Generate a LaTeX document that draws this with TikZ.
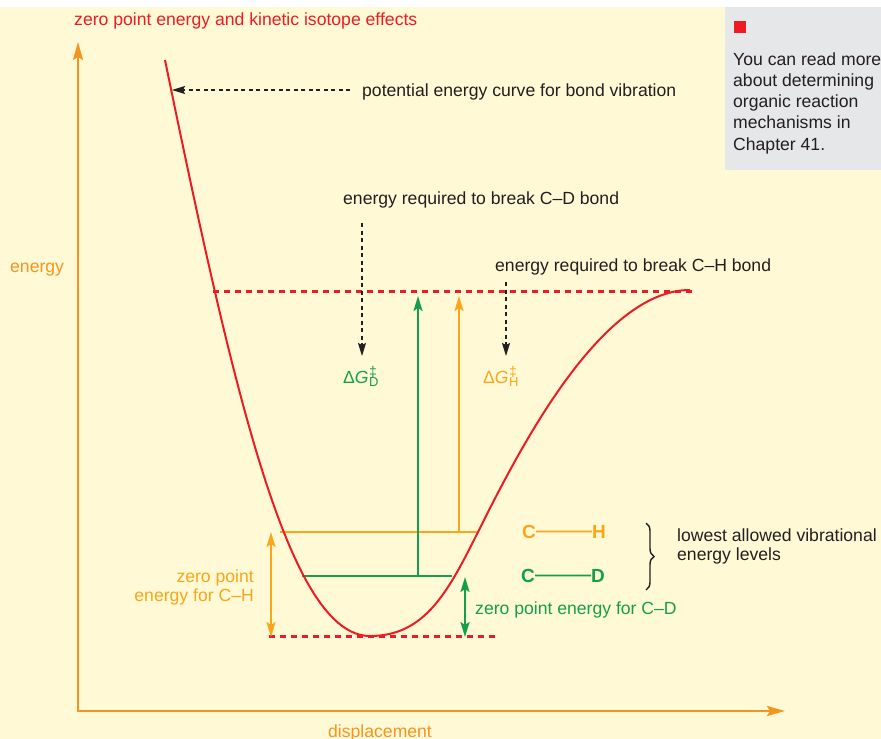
\documentclass[tikz,border=0pt]{standalone}
\usepackage{fontspec}
\setmainfont{Liberation Sans}
\usetikzlibrary{arrows.meta,decorations.pathreplacing}
\definecolor{bg}{HTML}{FFF9D5}
\definecolor{boxgray}{HTML}{E6E7E8}
\definecolor{cred}{HTML}{ED1C24}
\definecolor{axorange}{HTML}{F7941D}
\definecolor{chorange}{HTML}{FAA61A}
\definecolor{cdgreen}{HTML}{14A04A}
\definecolor{ink}{HTML}{231F20}
\newcommand{\mydg}[1]{Δ\textit{G}\hspace{0.5pt}\rlap{\raisebox{7pt}{\fontsize{14}{14}\selectfont ‡}}\raisebox{-3pt}{\fontsize{13}{13}\selectfont #1}}
\begin{document}
\begin{tikzpicture}[x=1pt,y=-1pt,
  lbl/.style={text=ink, inner sep=0pt, font=\fontsize{17.6}{21.5}\selectfont},
  dasharrow/.style={draw=ink, line width=1.2pt, dash pattern=on 4pt off 3.5pt, -{Stealth[length=13pt,width=8pt,inset=2pt]}},
  axis/.style={draw=axorange, line width=2pt, -{Stealth[length=18pt,width=10pt,inset=3pt]}},
  reddash/.style={draw=cred, line width=3pt, dash pattern=on 6pt off 5pt},
  uparrow/.style={line width=2pt, -{Stealth[length=15pt,width=9pt,inset=3pt]}},
  dblarrow/.style={line width=2pt, {Stealth[length=15pt,width=9pt,inset=3pt]}-{Stealth[length=15pt,width=9pt,inset=3pt]}},
  level/.style={line width=2.2pt},
  bondlbl/.style={inner sep=0pt, font=\fontsize{19}{21.5}\selectfont\bfseries}
]
\useasboundingbox (0,0) rectangle (881,739);
\fill[white] (0,0) rectangle (881,739);
\fill[bg] (0,7) rectangle (881,739);
\fill[boxgray] (725,7) rectangle (881,170);
\fill[cred] (734,21) rectangle (746,33);
% note box text
\node[lbl, anchor=base west] (n1) at (733,65) {You can read more};
\node[lbl, anchor=base west] (n2) at (733,86.3) {about determining};
\node[lbl, anchor=base west] (n3) at (733,107.6) {organic reaction};
\node[lbl, anchor=base west] (n4) at (733,128.9) {mechanisms in};
\node[lbl, anchor=base west] (n5) at (733,150.2) {Chapter 41.};
% title
\node[lbl, text=cred, anchor=base west] (title) at (74,25) {zero point energy and kinetic isotope effects};
% axes
\coordinate (orig) at (78,711);
\coordinate (ytip) at (78,42);
\coordinate (xtip) at (785,711);
\draw[axis] (78,712) -- (ytip);
\draw[axis] (orig) -- (xtip);
\node[lbl, text=axorange, anchor=base west] (ylab) at (10,272) {energy};
\node[lbl, text=axorange, anchor=base west] (xlab) at (328,737) {displacement};
% dashed reference lines
\coordinate (topL) at (213,291);
\coordinate (topR) at (693,291);
\coordinate (botL) at (269,636);
\coordinate (botR) at (498,636);
\draw[reddash] (topL) -- (topR);
\draw[reddash] (botL) -- (botR);
% energy levels
\coordinate (chL) at (280,532);
\coordinate (chR) at (479,532);
\coordinate (cdL) at (302,576);
\coordinate (cdR) at (452,576);
\draw[level, chorange] (chL) -- (chR);
\draw[level, cdgreen] (cdL) -- (cdR);
% vertical activation arrows
\coordinate (gBase) at (418,576);
\coordinate (gTip) at (418,296);
\coordinate (oBase) at (459,532);
\coordinate (oTip) at (459,296);
\draw[uparrow, cdgreen] (gBase) -- (gTip);
\draw[uparrow, chorange] (oBase) -- (oTip);
% potential curve
\draw[cred, line width=2pt] (165,60) .. controls (235,400) and (290,636) .. (370,636)
  .. controls (425,636) and (448,592) .. (478,532)
  .. controls (518,452) and (600,290) .. (690,290);
% labels with dashed arrows
\node[lbl, anchor=base west] (pec) at (362,96) {potential energy curve for bond vibration};
\coordinate (pecS) at (350,90);
\coordinate (pecT) at (172,90);
\draw[dasharrow] (pecS) -- (pecT);
\node[lbl, anchor=base west] (bd) at (343,204) {energy required to break C–D bond};
\coordinate (bdS) at (362,223);
\coordinate (bdT) at (362,356);
\draw[dasharrow] (bdS) -- (bdT);
\node[lbl, anchor=base west] (bh) at (495,271) {energy required to break C–H bond};
\coordinate (bhS) at (506,282);
\coordinate (bhT) at (506,356);
\draw[dasharrow] (bhS) -- (bhT);
\node[lbl, text=cdgreen, anchor=base west] (dgd) at (343,383) {\mydg{D}};
\node[lbl, text=chorange, anchor=base west] (dgh) at (483,383) {\mydg{H}};
% zero point arrows
\coordinate (zhT) at (271,532);
\coordinate (zhB) at (271,637);
\draw[dblarrow, chorange] (zhT) -- (zhB);
\node[lbl, text=chorange, anchor=base east] (zh1) at (254,582) {zero point};
\node[lbl, text=chorange, anchor=base east] (zh2) at (254,601) {energy for C–H};
\coordinate (zdT) at (465,577);
\coordinate (zdB) at (465,637);
\draw[dblarrow, cdgreen] (zdT) -- (zdB);
\node[lbl, text=cdgreen, anchor=base west] (zd) at (475,614) {zero point energy for C–D};
% bond labels
\node[bondlbl, text=chorange, anchor=base west] (c1) at (522,538) {C};
\node[bondlbl, text=chorange, anchor=base west] (h1) at (592,538) {H};
\draw[chorange, line width=1.8pt] (c1.east) -- (h1.west);
\node[bondlbl, text=cdgreen, anchor=base west] (c2) at (521,582) {C};
\node[bondlbl, text=cdgreen, anchor=base west] (d2) at (591,582) {D};
\draw[cdgreen, line width=1.8pt] (c2.east) -- (d2.west);
\coordinate (brT) at (646,523);
\coordinate (brB) at (646,590);
\draw[ink, line width=1.4pt, decorate, decoration={brace, amplitude=8pt}] (brT) -- (brB);
\node[lbl, anchor=base west] (low1) at (677,541) {lowest allowed vibrational};
\node[lbl, anchor=base west] (low2) at (677,560) {energy levels};
\end{tikzpicture}
\end{document}
